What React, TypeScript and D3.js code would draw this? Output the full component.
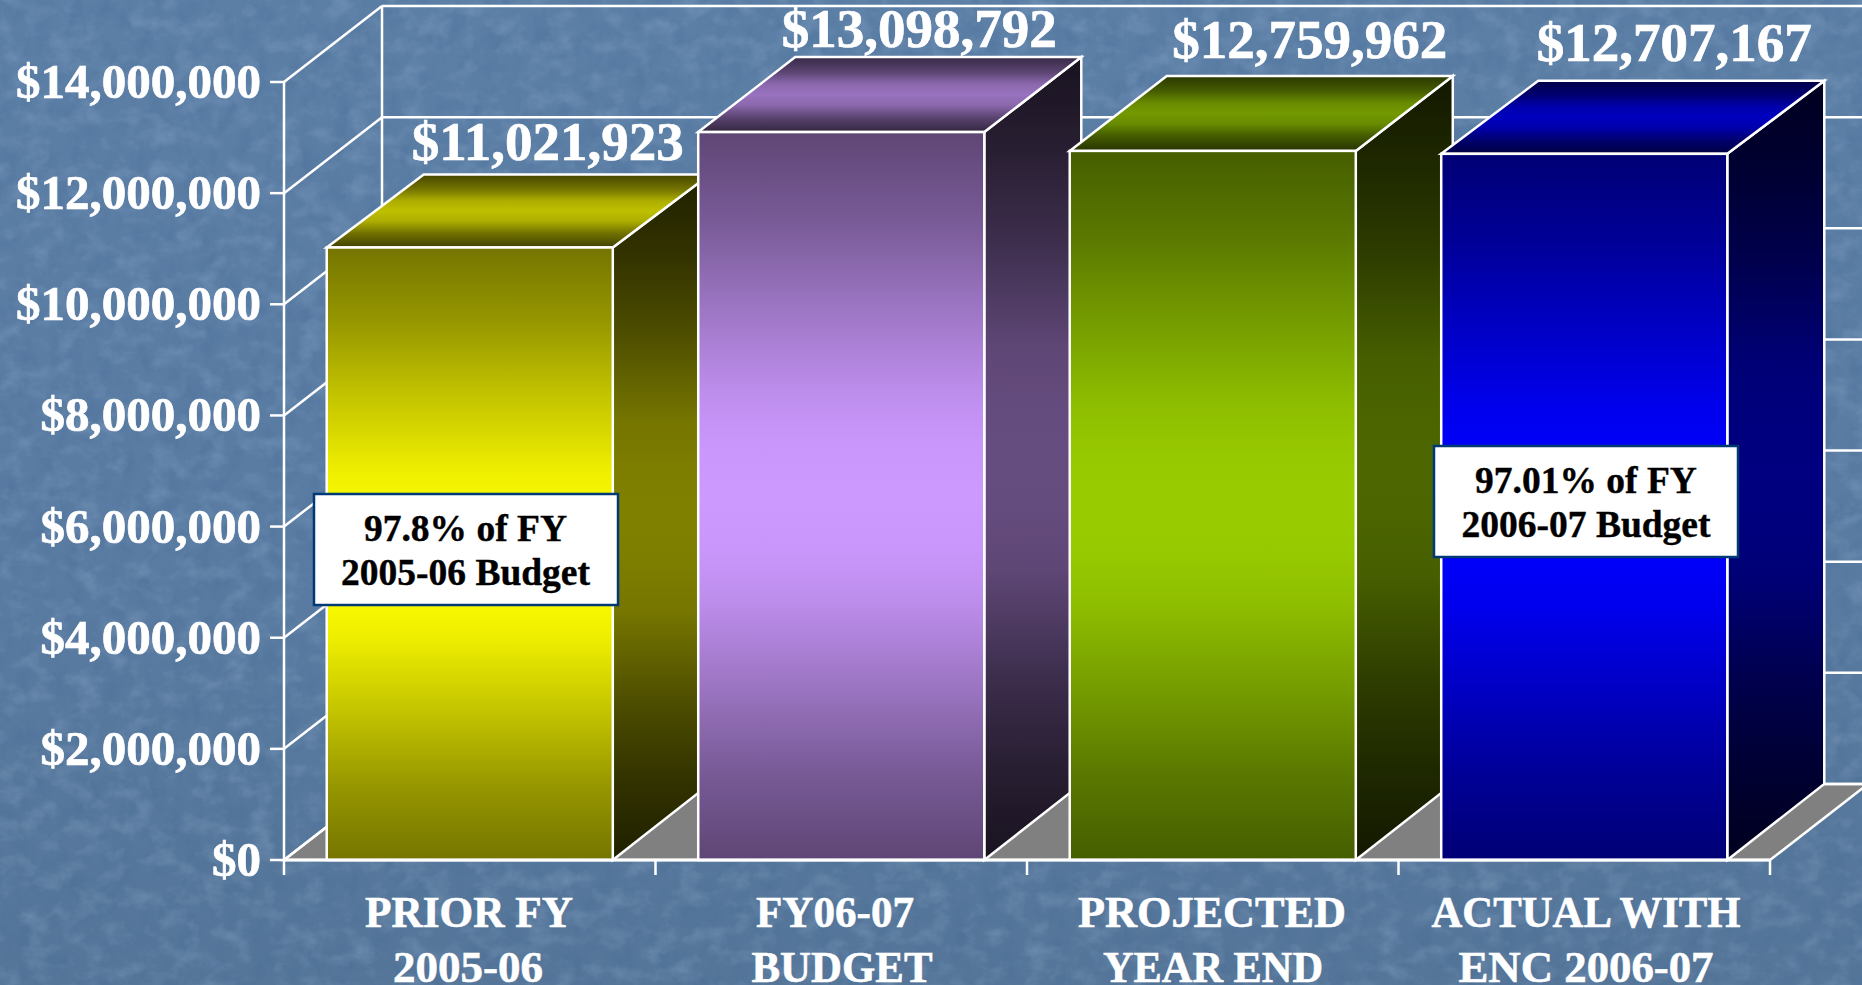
import React from "react";
import * as d3 from "d3";

const W = 1862;
const H = 985;

// ---- data ----
const categories = ["PRIOR FY|2005-06", "FY06-07|BUDGET", "PROJECTED|YEAR END", "ACTUAL WITH|ENC 2006-07"];
const values = [11021923, 13098792, 12759962, 12707167];
const baseColors = ["#FFFF00", "#CC99FF", "#99CC00", "#0000FF"];
const yTicks = [0, 2000000, 4000000, 6000000, 8000000, 10000000, 12000000, 14000000];
const calloutText = [
  ["97.8% of FY", "2005-06 Budget"],
  ["97.01% of FY", "2006-07 Budget"],
];
// ---- layout ----
const valueLabelNudgeX = [78, 78, 97, 90];
const valueLabelNudgeY = [87, 85, 93, 93];
const barTopDepth = [73, 75, 75, 73];
const categoryLineBoxes = [
  [{ cx: 469, w: 208 }, { cx: 468, w: 150 }],
  [{ cx: 835, w: 158 }, { cx: 842, w: 181 }],
  [{ cx: 1212, w: 268 }, { cx: 1213, w: 220 }],
  [{ cx: 1586, w: 309 }, { cx: 1586, w: 255 }],
];
const calloutBoxes = [
  { x: 314, y: 494, w: 304, h: 111, base: [541, 585], cx: 465.5 },
  { x: 1434, y: 446, w: 304, h: 111, base: [493, 537], cx: 1586 },
];

const AXIS_L = 284, AXIS_R = 1770, Y0 = 860, Y14 = 82;
const WALL_DX = 98, WALL_DY = 76;
const BAR_DX = 97;
const SERIF = "'Liberation Serif', 'Times New Roman', serif";

const y = d3.scaleLinear().domain([0, 14000000]).range([Y0, Y14]);
const x = d3.scaleBand<string>().domain(categories).range([AXIS_L, AXIS_R]).paddingInner(0.23).paddingOuter(0.115);
const money = (v: number) => "$" + d3.format(",")(v);
const shade = (c: string, k: number) => {
  const r = d3.rgb(c);
  return d3.rgb(r.r * k, r.g * k, r.b * k).formatRgb();
};

const frontStops: [number, number][] = [[0, 0.46], [0.12, 0.59], [0.23, 0.75], [0.36, 0.93], [0.43, 0.985], [0.5, 1], [0.57, 0.985], [0.64, 0.93], [0.77, 0.75], [0.88, 0.59], [1, 0.46]];
const sideStops: [number, number][] = [[0, 0.12], [0.12, 0.2], [0.23, 0.3], [0.36, 0.46], [0.43, 0.49], [0.5, 0.5], [0.57, 0.49], [0.64, 0.46], [0.77, 0.3], [0.88, 0.2], [1, 0.12]];
const topStops: [number, number][] = [[0, 0.27], [0.2, 0.45], [0.36, 0.68], [0.5, 0.75], [0.64, 0.68], [0.8, 0.45], [1, 0.25]];

function Grad({ id, color, stops }: { id: string; color: string; stops: [number, number][] }) {
  return (
    <linearGradient id={id} x1="0" y1="0" x2="0" y2="1">
      {stops.map(([o, k], i) => (
        <stop key={i} offset={o} stopColor={shade(color, k)} />
      ))}
    </linearGradient>
  );
}

export default function App() {
  const bw = x.bandwidth();
  const xTicks = [...categories.map((c) => (x(c) as number) - (x.step() - bw) / 2), AXIS_R];
  const wallTop = y(14000000) - WALL_DY;
  const floorY = Y0 - WALL_DY;
  const pts = (p: number[][]) => p.map((q) => q.join(",")).join(" ");

  return (
    <svg width={W} height={H} viewBox={`0 0 ${W} ${H}`} style={{ position: "absolute", left: 0, top: 0, display: "block" }}>
      <defs>
        <linearGradient id="bg" x1="0" y1="0" x2="0" y2="1">
          <stop offset="0" stopColor="#5c7fa6" />
          <stop offset="0.5" stopColor="#5a7ca3" />
          <stop offset="1" stopColor="#557699" />
        </linearGradient>
        <filter id="mottleLight" x="0" y="0" width="100%" height="100%" colorInterpolationFilters="sRGB">
          <feTurbulence type="fractalNoise" baseFrequency="0.04 0.055" numOctaves={4} seed={7} />
          <feColorMatrix type="matrix" values="0 0 0 0 0.62  0 0 0 0 0.72  0 0 0 0 0.84  0 0 0 2 -0.92" />
        </filter>
        <filter id="mottleDark" x="0" y="0" width="100%" height="100%" colorInterpolationFilters="sRGB">
          <feTurbulence type="fractalNoise" baseFrequency="0.06 0.04" numOctaves={3} seed={19} />
          <feColorMatrix type="matrix" values="0 0 0 0 0.26  0 0 0 0 0.40  0 0 0 0 0.57  0 0 0 2 -0.9" />
        </filter>
        {baseColors.map((c, i) => (
          <React.Fragment key={i}>
            <Grad id={`front${i}`} color={c} stops={frontStops} />
            <Grad id={`side${i}`} color={c} stops={sideStops} />
            <Grad id={`top${i}`} color={c} stops={topStops} />
          </React.Fragment>
        ))}
      </defs>

      <rect width={W} height={H} fill="url(#bg)" />
      <rect width={W} height={H} filter="url(#mottleDark)" opacity={0.3} />
      <rect width={W} height={H} filter="url(#mottleLight)" opacity={0.3} />

      {/* floor */}
      <polygon points={pts([[AXIS_L, Y0], [AXIS_L + WALL_DX, floorY], [AXIS_R + WALL_DX, floorY], [AXIS_R, Y0]])} fill="#808080" stroke="#fff" strokeWidth={2.5} />

      {/* walls and gridlines */}
      <g stroke="#fff" fill="none">
        {yTicks.map((t) => (
          <g key={t}>
            <line x1={AXIS_L} y1={y(t)} x2={AXIS_L + WALL_DX} y2={y(t) - WALL_DY} strokeWidth={2.5} />
            <line x1={AXIS_L + WALL_DX} y1={y(t) - WALL_DY} x2={AXIS_R + WALL_DX} y2={y(t) - WALL_DY} strokeWidth={2.5} />
            <line x1={270} y1={y(t)} x2={AXIS_L} y2={y(t)} strokeWidth={2.5} />
          </g>
        ))}
        <line x1={AXIS_L + WALL_DX} y1={wallTop} x2={AXIS_L + WALL_DX} y2={floorY} strokeWidth={2.5} />
        <line x1={AXIS_L} y1={Y14} x2={AXIS_L} y2={Y0} strokeWidth={2.5} />
        {xTicks.map((t, i) => (
          <line key={i} x1={t} y1={Y0} x2={t} y2={875} strokeWidth={2.5} />
        ))}
      </g>

      {/* bars */}
      {categories.map((c, i) => {
        const x0 = x(c) as number;
        const x1 = x0 + bw;
        const yt = y(values[i]);
        const d = barTopDepth[i];
        return (
          <g key={c} stroke="#fff" strokeWidth={2.5} strokeLinejoin="miter">
            <polygon points={pts([[x1, Y0], [x1 + BAR_DX, floorY], [x1 + BAR_DX, yt - d], [x1, yt]])} fill={`url(#side${i})`} />
            <polygon points={pts([[x0, yt], [x0 + BAR_DX, yt - d], [x1 + BAR_DX, yt - d], [x1, yt]])} fill={`url(#top${i})`} />
            <rect x={x0} y={yt} width={bw} height={Y0 - yt} fill={`url(#front${i})`} />
          </g>
        );
      })}
      <line x1={AXIS_L} y1={Y0} x2={AXIS_R} y2={Y0} stroke="#fff" strokeWidth={3} />

      {/* y tick labels */}
      <g fontFamily={SERIF} fontWeight="bold" fill="#fff" stroke="#fff" strokeWidth={0.7} fontSize={49} textAnchor="end">
        {yTicks.map((t) => (
          <text key={t} x={261} y={y(t) + 16}>{money(t)}</text>
        ))}
      </g>

      {/* category labels */}
      <g fontFamily={SERIF} fontWeight="bold" fill="#fff" stroke="#fff" strokeWidth={0.6} fontSize={44} textAnchor="middle">
        {categories.map((c, i) => {
          const [a, b] = c.split("|");
          const [la, lb] = categoryLineBoxes[i];
          return (
            <g key={c}>
              <text x={la.cx} y={927} textLength={la.w} lengthAdjust="spacingAndGlyphs">{a}</text>
              <text x={lb.cx} y={982} textLength={lb.w} lengthAdjust="spacingAndGlyphs">{b}</text>
            </g>
          );
        })}
      </g>

      {/* value labels */}
      <g fontFamily={SERIF} fontWeight="bold" fill="#fff" stroke="#fff" strokeWidth={0.7} fontSize={55} textAnchor="middle">
        {categories.map((c, i) => (
          <text key={c} x={(x(c) as number) + bw / 2 + valueLabelNudgeX[i]} y={y(values[i]) - valueLabelNudgeY[i]}>
            {money(values[i])}
          </text>
        ))}
      </g>

      {/* callouts */}
      {calloutBoxes.map((b, i) => (
        <g key={i}>
          <rect x={b.x} y={b.y} width={b.w} height={b.h} fill="#fff" stroke="#003a75" strokeWidth={2.5} />
          {calloutText[i].map((s, j) => (
            <text key={j} x={b.cx} y={b.base[j]} fontFamily={SERIF} fontWeight="bold" fontSize={37.5} stroke="#000" strokeWidth={0.4} textAnchor="middle" fill="#000">
              {s}
            </text>
          ))}
        </g>
      ))}
    </svg>
  );
}
